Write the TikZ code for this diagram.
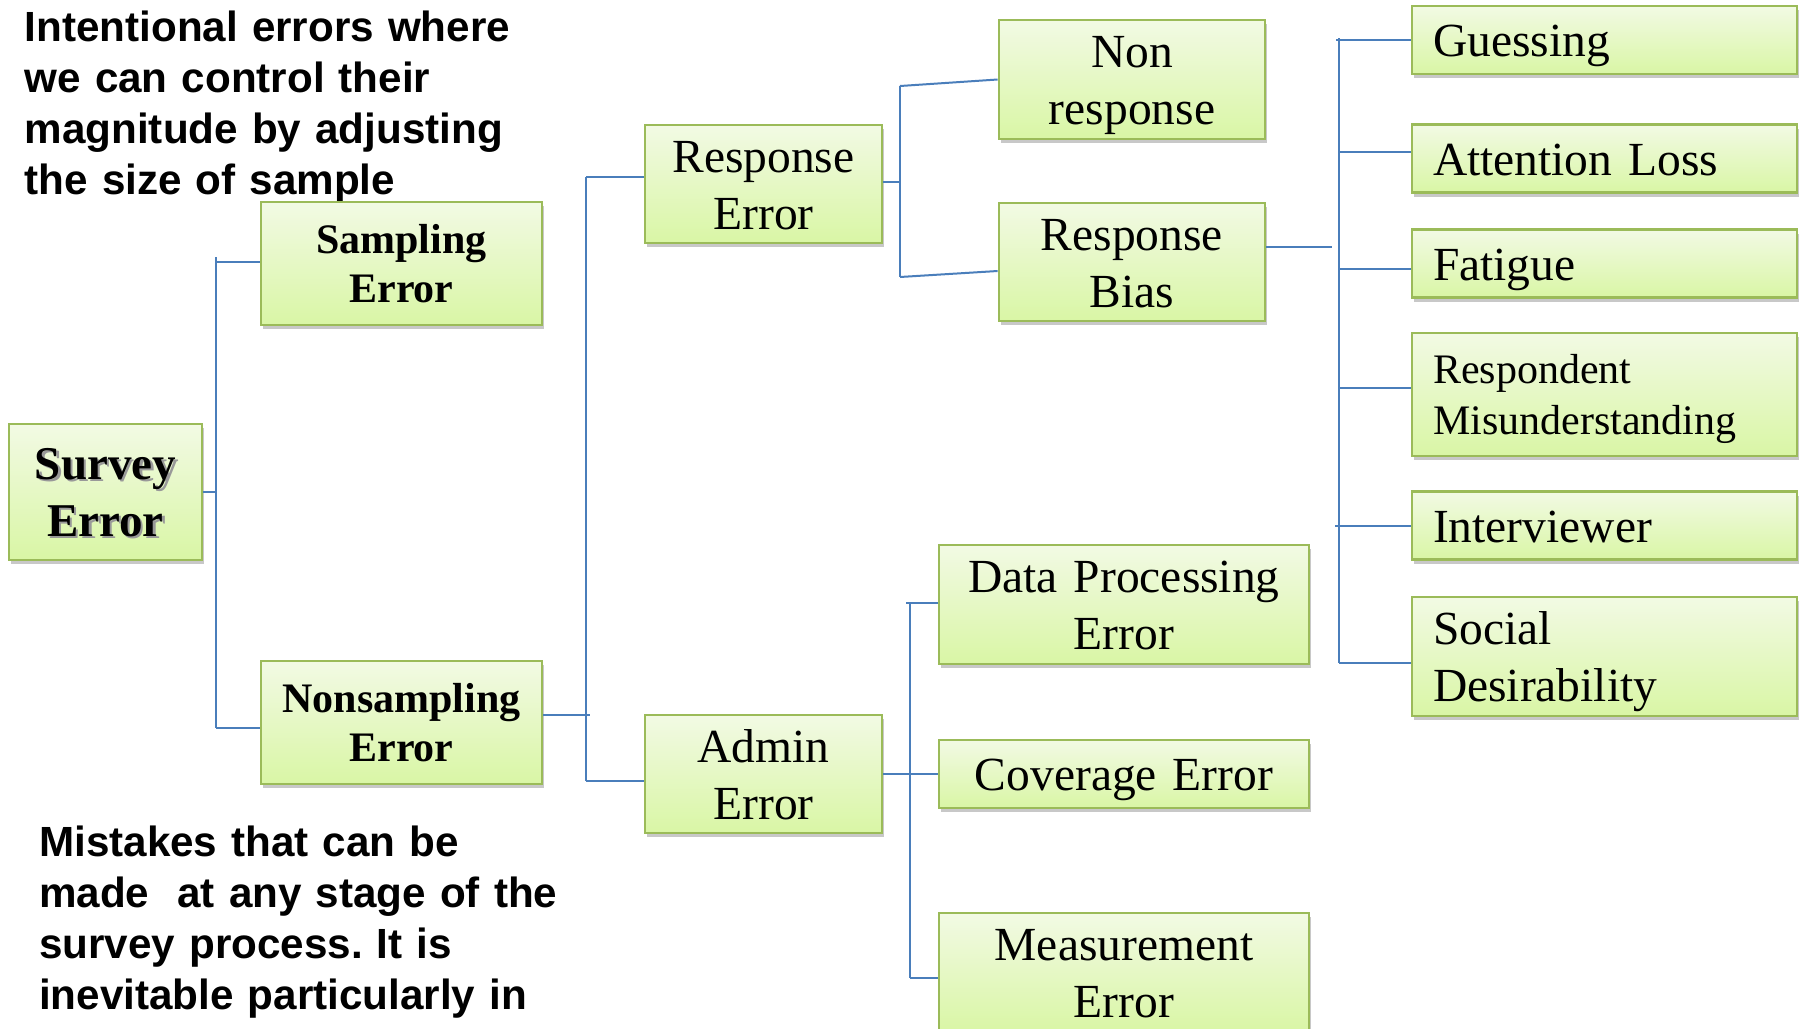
\documentclass[tikz,border=0pt]{standalone}
\usepackage{fontspec}
\setmainfont{Liberation Serif}
\newfontfamily\notesans{Liberation Sans}
\usetikzlibrary{shadows,calc}

\definecolor{boxline}{RGB}{155,187,89}
\definecolor{boxtop}{RGB}{242,250,228}
\definecolor{boxbot}{RGB}{217,246,165}
\definecolor{linkblue}{RGB}{74,126,187}

% text with a soft grey copy offset down and right
\newcommand\shadowtext[1]{\makebox[0pt][l]{\kern2.5bp\raisebox{-2.5bp}{\textcolor{black!40}{#1}}}#1}

\tikzset{
  box/.style={rectangle, draw=boxline, line width=2.8bp,
    top color=boxtop, bottom color=boxbot,
    inner xsep=0pt, inner ysep=0pt,
    drop shadow={shadow xshift=2bp, shadow yshift=-4bp, opacity=0.3, fill=black!70}},
  mid/.style={align=center},
  leftbox/.style={align=left, inner xsep=21bp},
  regular/.style={font=\fontsize{47.5bp}{57bp}\selectfont},
  one/.style={text height=33bp, text depth=0bp},
  two/.style={text height=33bp, text depth=57bp},
  link/.style={draw=linkblue, line width=2bp},
  note/.style={align=left, inner sep=0pt, text width=580bp,
    font=\notesans\bfseries\fontsize{42.2bp}{51.3bp}\selectfont},
}

\begin{document}
\frenchspacing
\begin{tikzpicture}[x=1bp, y=-1bp]
\fill[white] (0,0) rectangle (1800,1028);
\useasboundingbox (0,0) rectangle (1800,1028);

% ---- notes ----
\node[note, anchor=base west] (topnote) at (24.5,41)
  {Intentional errors where\\we can control their\\magnitude by adjusting\\the size of sample};
\node[note, anchor=base west] (botnote) at (39,856)
  {Mistakes that can be\\made\ \ at any stage of the\\survey process. It is\\inevitable particularly in};

% ---- tree boxes ----
\node[box, mid, minimum width=193bp, minimum height=136bp, text width=193bp,
  font=\fontsize{47bp}{57bp}\selectfont\bfseries, text height=31bp, text depth=57bp]
  (survey) at (105.5,492)
  {\shadowtext{Survey}\\\shadowtext{Error}};

\node[box, mid, minimum width=281bp, minimum height=123bp, text width=281bp,
  font=\fontsize{42bp}{49bp}\selectfont\bfseries, text height=29bp, text depth=49bp]
  (sampling) at (401.5,263.5) {Sampling\\Error};
\node[box, mid, minimum width=281bp, minimum height=123bp, text width=281bp,
  font=\fontsize{42bp}{49bp}\selectfont\bfseries, text height=29bp, text depth=49bp]
  (nonsampling) at (401.5,722.5) {Nonsampling\\Error};

\node[box, mid, regular, two, minimum width=237bp, minimum height=118bp, text width=237bp]
  (resperr) at (763.5,184) {Response\\Error};
\node[box, mid, regular, two, minimum width=237bp, minimum height=118bp, text width=237bp]
  (admin) at (763.5,774) {Admin\\Error};

\node[box, mid, regular, two, minimum width=266bp, minimum height=119bp, text width=266bp]
  (nonresp) at (1132,79.5) {Non\\response};
\node[box, mid, regular, two, minimum width=266bp, minimum height=118bp, text width=266bp]
  (respbias) at (1132,262) {Response\\Bias};

\node[box, mid, regular, two, minimum width=370bp, minimum height=119bp, text width=370bp]
  (dataproc) at (1124,604.5) {Data Processing\\Error};
\node[box, mid, regular, one, minimum width=370bp, minimum height=68bp, text width=370bp]
  (coverage) at (1124,774) {Coverage Error};
\node[box, mid, regular, two, minimum width=370bp, minimum height=119bp, text width=370bp]
  (measure) at (1124,972.5) {Measurement\\Error};

\node[box, leftbox, regular, one, minimum width=385bp, minimum height=68bp, text width=343bp]
  (guess) at (1604.5,40) {Guessing};
\node[box, leftbox, regular, one, minimum width=385bp, minimum height=68bp, text width=343bp]
  (attn) at (1604.5,158.5) {Attention Loss};
\node[box, leftbox, regular, one, minimum width=385bp, minimum height=68bp, text width=343bp]
  (fatigue) at (1604.5,263.5) {Fatigue};
\node[box, leftbox, minimum width=385bp, minimum height=123bp, text width=343bp,
  font=\fontsize{42bp}{51bp}\selectfont, text height=29bp, text depth=51bp]
  (respmis) at (1604.5,394.5) {Respondent\\Misunderstanding};
\node[box, leftbox, regular, one, minimum width=385bp, minimum height=68bp, text width=343bp]
  (interv) at (1604.5,525.5) {Interviewer};
\node[box, leftbox, regular, two, minimum width=385bp, minimum height=119bp, text width=343bp]
  (social) at (1604.5,656.5) {Social\\Desirability};

% ---- connectors: survey error ----
\coordinate (sTop) at (216,257);
\coordinate (sBot) at (216,728);
\coordinate (sampIn) at ([yshift=1.5bp]sampling.west);
\draw[link] (sTop) -- (sBot);
\draw[link] (survey.east) -- (survey.east -| sTop);
\draw[link] (sampIn -| sTop) -- (sampIn);
\draw[link] (sBot) -- (sBot -| nonsampling.west);

% ---- connectors: nonsampling error ----
\coordinate (nTop) at (586,177);
\coordinate (nBot) at (586,781);
\coordinate (nsOut) at ([yshift=7.5bp]nonsampling.east);
\coordinate (nStub) at (590,0);
\draw[link] (nTop) -- (nBot);
\draw[link] (nsOut) -- (nsOut -| nStub);
\draw[link] (nTop) -- (nTop -| resperr.west);
\draw[link] (nBot) -- (nBot -| admin.west);

% ---- connectors: response error ----
\coordinate (rTop) at (900,86);
\coordinate (rBot) at (900,277);
\coordinate (reOut) at ([yshift=2bp]resperr.east);
\draw[link] (reOut) -- (reOut -| rTop);
\draw[link] (rTop) -- (rBot);
\draw[link] (rTop) -- (nonresp.west);
\draw[link] (rBot) -- ([yshift=-9bp]respbias.west);

% ---- connectors: response bias ----
\coordinate (bTop) at (1339,38);
\coordinate (bBot) at (1339,663);
\coordinate (bStub) at (1332,0);
\coordinate (rbOut) at ([yshift=15bp]respbias.east);
\draw[link] (rbOut) -- (rbOut -| bStub);
\draw[link] (bTop) -- (bBot);
\coordinate (gIn) at (guess.west);
\coordinate (aIn) at ([yshift=6.5bp]attn.west);
\coordinate (fIn) at ([yshift=-5.5bp]fatigue.west);
\coordinate (mIn) at ([yshift=6.5bp]respmis.west);
\coordinate (iIn) at (interv.west);
\coordinate (dIn) at ([yshift=-6.5bp]social.west);
\draw[link] ([xshift=-3bp]gIn -| bTop) -- (gIn);
\draw[link] (aIn -| bTop) -- (aIn);
\draw[link] (fIn -| bTop) -- (fIn);
\draw[link] (mIn -| bTop) -- (mIn);
\draw[link] ([xshift=-4bp]iIn -| bTop) -- (iIn);
\draw[link] (dIn -| bTop) -- (dIn);

% ---- connectors: admin error ----
\coordinate (aTop) at (910,603);
\coordinate (aBot) at (910,978);
\draw[link] (aTop) -- (aBot);
\draw[link] (admin.east) -- (coverage.west);
\draw[link] ([xshift=-4bp]aTop) -- (aTop -| dataproc.west);
\draw[link] (aBot) -- (aBot -| measure.west);
\end{tikzpicture}
\end{document}
